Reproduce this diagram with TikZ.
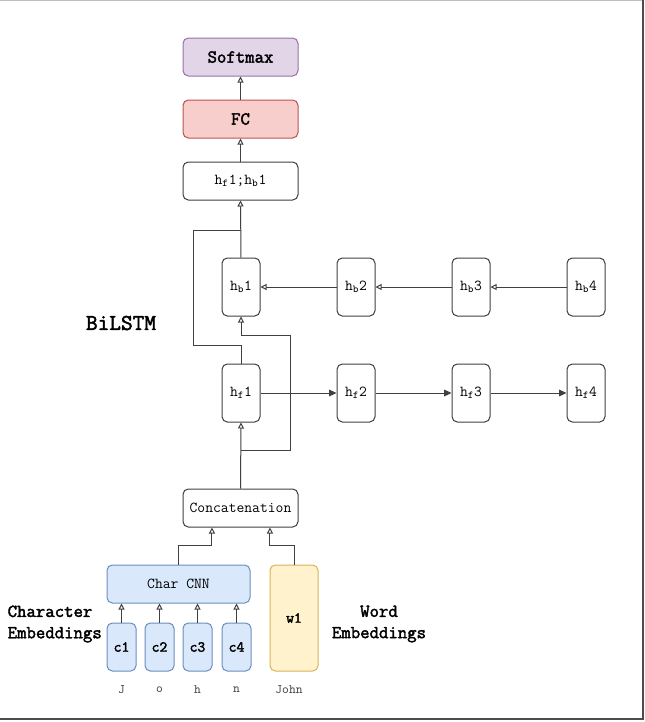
\documentclass[tikz,border=0pt]{standalone}
\usepackage{fontspec}
\setmonofont[AutoFakeBold=2.2]{Latin Modern Mono}
\usetikzlibrary{arrows.meta}
\definecolor{purpFill}{HTML}{E1D5E7}
\definecolor{purpLine}{HTML}{9673A6}
\definecolor{redFill}{HTML}{F8CECC}
\definecolor{redLine}{HTML}{B85450}
\definecolor{blueFill}{HTML}{DAE8FC}
\definecolor{blueLine}{HTML}{6C8EBF}
\definecolor{yelFill}{HTML}{FFF2CC}
\definecolor{yelLine}{HTML}{D6B656}
\begin{document}
\begin{tikzpicture}[x=0.75pt, y=-0.75pt,
    font=\ttfamily\fontsize{11.4}{13}\selectfont,
    blk/.style={draw=black!75, line width=0.75pt, rounded corners=4pt, fill=white,
      minimum width=86.25pt, minimum height=28.5pt, inner sep=0pt},
    cell/.style={blk, minimum width=28.5pt, minimum height=43.5pt},
    emb/.style={blk, draw=blueLine, fill=blueFill, minimum width=21.75pt,
      minimum height=36pt, font=\ttfamily\bfseries\fontsize{11.4}{13}\selectfont},
    lbl/.style={font=\ttfamily\bfseries\fontsize{13.7}{16}\selectfont},
    chr/.style={font=\ttfamily\fontsize{9.7}{11}\selectfont, text=black!75},
    con/.style={draw=black!75, line width=0.75pt},
    opn/.style={con, -{Triangle[open, length=4.5pt, width=4.5pt]}},
    fll/.style={con, -{Triangle[length=5.5pt, width=5pt]}}]
  \useasboundingbox (0,0) rectangle (645,722);
  % frame
  \draw[black!25, line width=1pt] (0,0.7) -- (643,0.7);
  \draw[black!70, line width=1.6pt] (643,0) -- (643,719) -- (0,719);
  % output side
  \node[blk, draw=purpLine, fill=purpFill, lbl] (softmax) at (240.5,57) {Softmax};
  \node[blk, draw=redLine, fill=redFill, lbl] (fc) at (240.5,119) {FC};
  \node[blk] (hcat) at (240.5,181) {h\textsubscript{f}1;h\textsubscript{b}1};
  % backward cells
  \foreach \i/\x in {1/241,2/356,3/471,4/586}
    \node[cell] (hb\i) at (\x,287) {h\textsubscript{b}\i};
  % forward cells
  \foreach \i/\x in {1/241,2/356,3/471,4/586}
    \node[cell] (hf\i) at (\x,393) {h\textsubscript{f}\i};
  \node[lbl, font=\ttfamily\bfseries\fontsize{17}{20}\selectfont] (bilstm) at (121,323) {BiLSTM};
  % input side
  \node[blk] (concat) at (240.5,508) {Concatenation};
  \node[blk, draw=blueLine, fill=blueFill, minimum width=107.25pt] (charcnn) at (178.5,584) {Char CNN};
  \node[blk, draw=yelLine, fill=yelFill, minimum width=36pt, minimum height=79.5pt,
    font=\ttfamily\bfseries\fontsize{11.4}{13}\selectfont] (w1) at (294,618) {w1};
  \foreach \i/\x/\ch in {1/121.5/J,2/159.5/o,3/197.5/h,4/236.5/n} {
    \node[emb] (c\i) at (\x,647) {c\i};
    \node[chr] (ch\i) at (\x,690) {\ch};
  }
  \node[chr] (word) at (289,690) {John};
  \node[lbl, anchor=west, align=left] (charemb) at (3,624) {Character\\Embeddings};
  \node[lbl, align=center] (wordemb) at (379,624) {Word\\Embeddings};
  % connectors
  \draw[opn] (fc.north) -- (softmax.south);
  \draw[opn] (hcat.north) -- (fc.south);
  \draw[opn] (hb1.north) -- (hcat.south);
  \coordinate (skipA) at (193,345);
  \coordinate (skipB) at (193,230);
  \draw[con] (hf1.north) |- (skipA) -- (skipB) -- (hb1.north |- skipB);
  \draw[opn] (concat.north) -- (hf1.south);
  \coordinate (brA) at (290,450);
  \coordinate (brB) at (290,335);
  \draw[opn] (hf1.south |- brA) -- (brA) -- (brB) -| (hb1.south);
  \foreach \a/\b in {1/2,2/3,3/4} {
    \draw[fll] (hf\a.east) -- (hf\b.west);
    \draw[opn] (hb\b.west) -- (hb\a.east);
  }
  \draw[opn] (charcnn.north) -- ++(0,-19) -| ([xshift=-21.4pt]concat.south);
  \draw[opn] (w1.north) -- ++(0,-19) -| ([xshift=22.1pt]concat.south);
  \foreach \i in {1,...,4}
    \draw[opn] (c\i.north) -- (c\i.north |- charcnn.south);
\end{tikzpicture}
\end{document}
